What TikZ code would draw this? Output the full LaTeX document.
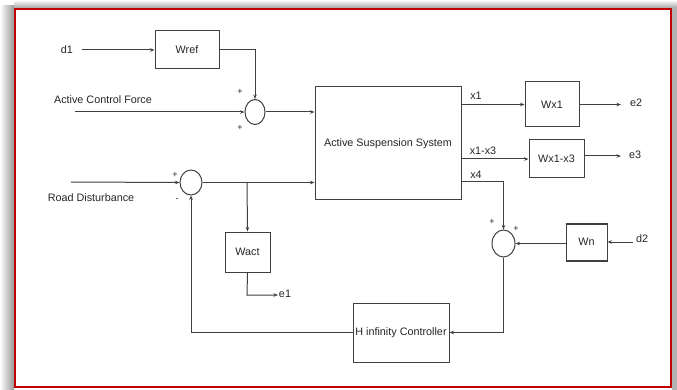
\documentclass[tikz,border=0pt]{standalone}
\usepackage{fontspec}
\setmainfont{Liberation Sans}
\usetikzlibrary{shapes.geometric,arrows.meta}
\definecolor{ln}{HTML}{404040}
\definecolor{fr}{HTML}{C00000}
\tikzset{
  blk/.style={draw=ln, line width=1pt, rectangle, inner sep=0pt, text=black!85, font=\fontsize{10.8}{12}\selectfont},
  sumj/.style={draw=ln, line width=1pt, ellipse, inner sep=0pt},
  arr/.style={draw=ln, line width=1pt, -{Stealth[length=4.5pt,width=3.5pt]}},
  lbl/.style={text=black!85, font=\fontsize{10.8}{12}\selectfont, inner sep=0pt},
  sgn/.style={text=black!85, font=\fontsize{9}{10}\selectfont, inner sep=0pt}
}
\begin{document}
\begin{tikzpicture}[x=1pt,y=-1pt]
\useasboundingbox (0,0) rectangle (677,390);
% background and shadow
\fill[white] (0,0) rectangle (677,390);
\shade[left color=white, right color=black!40] (0,6) rectangle (14,390);
\shade[top color=white, bottom color=black!35] (14,0) rectangle (677,8);
\fill[black!30] (672,8) rectangle (677,390);
\fill[white] (15,9) rectangle (671,387);
\draw[fr, line width=2pt] (15,9) rectangle (671,387);

% blocks
\node[blk, minimum width=64pt, minimum height=38pt] (wref) at (187,50) {Wref};
\node[sumj, minimum width=20pt, minimum height=25pt] (sum1) at (255,112) {};
\node[blk, minimum width=146pt, minimum height=113pt] (ass) at (388,143.5) {Active Suspension System};
\node[blk, minimum width=54pt, minimum height=45pt] (wx1) at (552,104.5) {Wx1};
\node[blk, minimum width=55pt, minimum height=38pt] (wx13) at (556.5,159) {Wx1-x3};
\node[sumj, minimum width=23pt, minimum height=27pt] (sum2) at (503.5,243.5) {};
\node[blk, minimum width=41pt, minimum height=36pt] (wn) at (586.5,242) {Wn};
\draw[ln, line width=2pt] (wn.north west) -- (wn.north east);
\draw[ln, line width=2pt] (wn.south west) -- (wn.south east);
\node[blk, minimum width=96pt, minimum height=59pt] (hinf) at (401,332.5) {H infinity Controller};
\node[sumj, minimum width=22pt, minimum height=25pt] (sum3) at (191,182.5) {};
\node[blk, minimum width=45pt, minimum height=40pt] (wact) at (247.5,252) {Wact};

% free-end coordinates
\coordinate (d1s) at (82,50);
\coordinate (acfs) at (75,112);
\coordinate (rds) at (71,182);
\coordinate (jn) at (247,182);
\coordinate (e1c) at (247,295);
\coordinate (e1e) at (278,295);
\coordinate (x1s) at (461,104.5);
\coordinate (x13s) at (461,159);
\coordinate (x4s) at (461,182);
\coordinate (e2e) at (621,104.5);
\coordinate (e3e) at (621,156);
\coordinate (d2s) at (633,242);

% text labels
\node[lbl] (d1) at (67,50) {d1};
\node[lbl] (acf) at (103,100) {Active Control Force};
\node[lbl] (rd) at (91,198) {Road Disturbance};
\node[lbl] (e1) at (285,294) {e1};
\node[lbl] (e2) at (636,103) {e2};
\node[lbl] (e3) at (635,155) {e3};
\node[lbl] (d2) at (642,239) {d2};
\node[lbl] (x1) at (476,96) {x1};
\node[lbl] (x13) at (483,151) {x1-x3};
\node[lbl] (x4) at (476,175) {x4};
\node[sgn] (p1) at (240,92) {+};
\node[sgn] (p2) at (240,128) {+};
\node[sgn] (p3) at (175,175) {+};
\node[sgn] (m3) at (177,200) {-};
\node[sgn] (p4) at (492,222) {+};
\node[sgn] (p5) at (516,229) {+};

% connectors
\draw[arr] (d1s) -- (wref.west);
\draw[arr] (wref.east) -| (sum1.north);
\draw[arr] (acfs) -- (sum1.west);
\draw[arr] (sum1.east) -- (sum1.east -| ass.west);
\draw[arr] (rds) -- (sum3.west);
\draw[arr] (sum3.east) -- (sum3.east -| ass.west);
\draw[arr] (jn) -- (wact.north);
\draw[arr] (wact.south) -- (e1c) -- (e1e);
\draw[arr] (x1s) -- (wx1.west);
\draw[arr] (wx1.east) -- (e2e);
\draw[arr] (x13s) -- (wx13.west);
\draw[arr] (wx13.east |- e3e) -- (e3e);
\draw[arr] (x4s) -| (sum2.north);
\draw[arr] (d2s) -- (wn.east);
\draw[arr] (wn.west |- sum2.east) -- (sum2.east);
\draw[arr] (sum2.south) |- (hinf.east);
\draw[arr] (hinf.west) -| (sum3.south);
\end{tikzpicture}
\end{document}
